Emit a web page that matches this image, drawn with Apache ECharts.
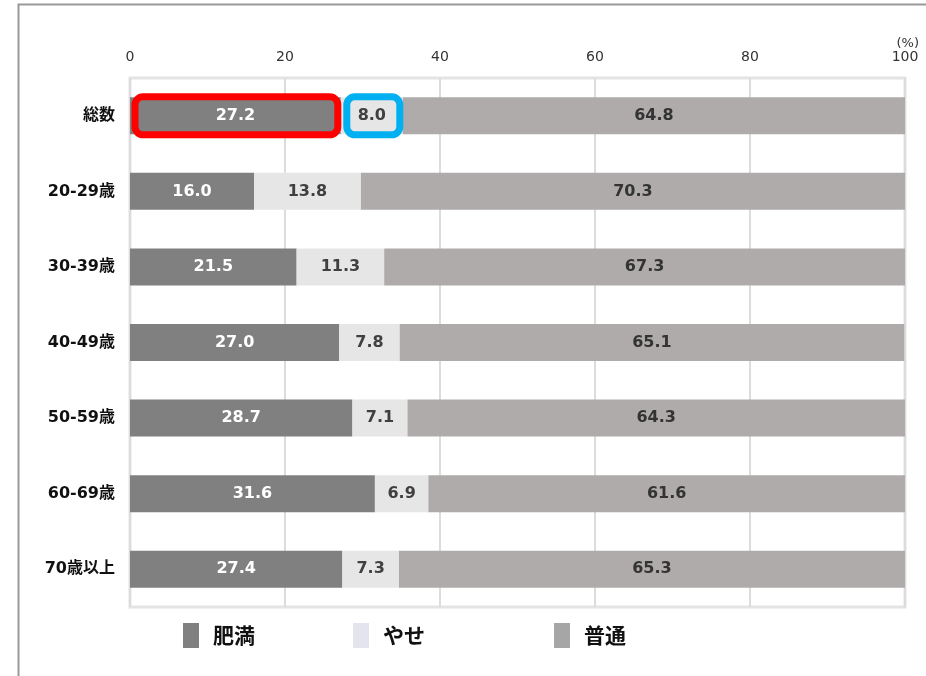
<!DOCTYPE html>
<html><head><meta charset="utf-8">
<script src="https://cdn.jsdelivr.net/npm/echarts@6/dist/echarts.min.js"></script>
<style>html,body{margin:0;padding:0;background:#fff}#c{width:926px;height:676px}</style>
</head><body><div id="c"></div>
<script>
const categories = ['総数','20-29歳','30-39歳','40-49歳','50-59歳','60-69歳','70歳以上'];
const obese = [27.2,16.0,21.5,27.0,28.7,31.6,27.4];
const thin = [8.0,13.8,11.3,7.8,7.1,6.9,7.3];
const normal = [64.8,70.3,67.3,65.1,64.3,61.6,65.3];
const seriesNames = ['肥満','やせ','普通'];
const xTicks = [0,20,40,60,80,100];

const NUM = 'DejaVu Sans, "Noto Sans CJK JP", sans-serif';
const chart = echarts.init(document.getElementById('c'));
const lbl = (color) => ({show:true, position:'inside', color:color, fontFamily:NUM, fontWeight:'bold', fontSize:16,
  formatter: p => p.value.toFixed(1)});
const legendText = {fontFamily:'"Noto Sans CJK JP", sans-serif', fontWeight:'bold', fontSize:21, color:'#111', padding:[0,0,0,9]};
function mkLegend(name, left, color){
  return {left:left, top:623, padding:0, itemWidth:16, itemHeight:25, icon:'rect', textStyle:legendText,
    data:[{name:name, itemStyle:{color:color}}], selectedMode:false};
}
chart.setOption({
  animation:false,
  grid:{left:130, right:21, top:78, bottom:69, show:true, borderColor:'#e4e4e4', borderWidth:3},
  xAxis:{type:'value', position:'top', min:0, max:100, interval:20,
    axisLine:{show:false}, axisTick:{show:false},
    axisLabel:{margin:14, color:'#333', fontFamily:NUM, fontSize:14,
      customValues: xTicks},
    splitLine:{show:true, lineStyle:{color:'#dcdcdc', width:2}}},
  yAxis:{type:'category', data:categories, inverse:true,
    axisLine:{show:false}, axisTick:{show:false},
    axisLabel:{margin:15, color:'#111', fontFamily:NUM, fontWeight:'bold', fontSize:16}},
  legend:[mkLegend('肥満',183,'#808080'), mkLegend('やせ',353,'#e4e4ee'), mkLegend('普通',554,'#a6a6a6')],
  series:[
    {name:seriesNames[0], type:'bar', stack:'s', barWidth:37, data:obese, itemStyle:{color:'#808080'}, label:lbl('#fff')},
    {name:seriesNames[1], type:'bar', stack:'s', barWidth:37, data:thin, itemStyle:{color:'#e6e6e6'}, label:lbl('#404040')},
    {name:seriesNames[2], type:'bar', stack:'s', barWidth:37, data:normal, itemStyle:{color:'#afabab'}, label:lbl('#333')}
  ]
});

function px(v, c){ return chart.convertToPixel({gridIndex:0}, [v, c]); }
const a0 = px(0, categories[0]), a1 = px(obese[0], categories[0]), a2 = px(obese[0]+thin[0], categories[0]);
const cy = a0[1];
chart.setOption({graphic:[
  {type:'rect', left:16, top:2, shape:{width:960, height:700}, style:{fill:'none', stroke:'#999', lineWidth:2}, silent:true},
  {type:'text', x:px(100,categories[0])[0]+14, y:37, style:{text:'(%)', fill:'#333', font:'13px DejaVu Sans', textAlign:'right'}},
  {type:'rect', shape:{x:a0[0]+5, y:cy-19, width:a1[0]-a0[0]-8, height:38, r:8}, style:{fill:'none', stroke:'#ff0000', lineWidth:7}, z:100},
  {type:'rect', shape:{x:a1[0]+6, y:cy-19, width:a2[0]-a1[0]-9, height:38, r:8}, style:{fill:'none', stroke:'#00b0f0', lineWidth:7}, z:100}
]});
</script></body></html>
